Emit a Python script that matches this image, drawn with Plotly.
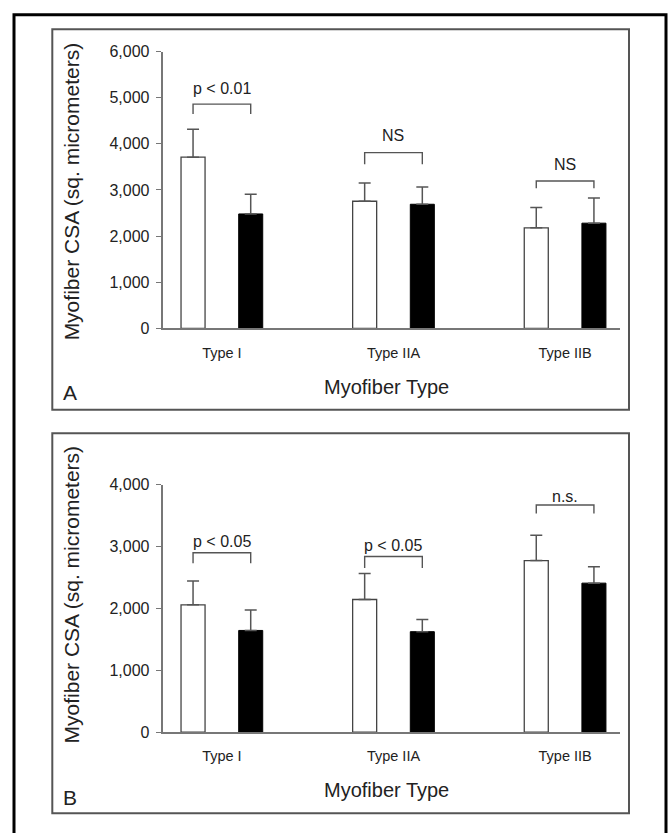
import plotly.graph_objects as go

W, H = 670, 833

categories = ["Type I", "Type IIA", "Type IIB"]

# Panel A
a_white = [3710, 2755, 2180]
a_white_err = [608, 395, 440]
a_black = [2480, 2690, 2280]
a_black_err = [425, 375, 545]
a_labels = ["p < 0.01", "NS", "NS"]
a_bracket_top = [4860, 3810, 3195]
a_bracket_end = [4645, 3560, 3035]
a_label_y = [5210, 4170, 3547]
a_yticks = [0, 1000, 2000, 3000, 4000, 5000, 6000]

# Panel B
b_white = [2060, 2145, 2775]
b_white_err = [385, 420, 407]
b_black = [1645, 1625, 2410]
b_black_err = [332, 196, 265]
b_labels = ["p < 0.05", "p < 0.05", "n.s."]
b_bracket_top = [2900, 2840, 3672]
b_bracket_end = [2733, 2654, 3536]
b_label_y = [3077, 3020, 3816]
b_yticks = [0, 1000, 2000, 3000, 4000]

FONT = "Liberation Sans, Arial, Helvetica, sans-serif"
AX = "#777777"
TXT = "#222222"
BW = 0.14
OFF = 0.168

def px_x(v):
    return v / W

def px_y(v):
    return 1 - v / H

fig = go.Figure()

def add_panel(xa, ya, white, werr, black, berr):
    fig.add_trace(go.Bar(
        x=categories, y=white, width=BW, offset=-OFF - BW / 2,
        marker=dict(color="white", line=dict(color="#444444", width=1.3)),
        error_y=dict(type="data", array=werr, arrayminus=[0] * len(werr), symmetric=False,
                     color="#555555", thickness=1.5, width=6),
        xaxis=xa, yaxis=ya, showlegend=False, hoverinfo="skip"))
    fig.add_trace(go.Bar(
        x=categories, y=black, width=BW, offset=OFF - BW / 2,
        marker=dict(color="black", line=dict(color="black", width=1)),
        error_y=dict(type="data", array=berr, arrayminus=[0] * len(berr), symmetric=False,
                     color="#555555", thickness=1.5, width=6),
        xaxis=xa, yaxis=ya, showlegend=False, hoverinfo="skip"))

add_panel("x", "y", a_white, a_white_err, a_black, a_black_err)
add_panel("x2", "y2", b_white, b_white_err, b_black, b_black_err)

xcommon = dict(type="category", range=[-0.346, 2.317], showline=True, linecolor=AX, linewidth=1.6,
               ticks="outside", ticklen=10, tickcolor="rgba(0,0,0,0)", showgrid=False, zeroline=False,
               tickfont=dict(family=FONT, size=14.5, color=TXT), fixedrange=True)
ycommon = dict(showline=True, linecolor=AX, linewidth=1.6, ticks="outside", ticklen=5, tickcolor=AX,
               tickwidth=1.4, showgrid=False, zeroline=False, tickformat=",",
               tickfont=dict(family=FONT, size=16, color=TXT), ticklabelstandoff=3, fixedrange=True)

xdom = [px_x(162.5), px_x(619.5)]
fig.update_layout(
    width=W, height=H, margin=dict(l=0, r=0, t=0, b=0),
    paper_bgcolor="white", plot_bgcolor="white", barmode="overlay",
    xaxis=dict(domain=xdom, anchor="y", **xcommon),
    yaxis=dict(domain=[px_y(327), px_y(44.5)], anchor="x", range=[0, 6000], tickvals=a_yticks, **ycommon),
    xaxis2=dict(domain=xdom, anchor="y2", **xcommon),
    yaxis2=dict(domain=[px_y(739.3), px_y(486.7)], anchor="x2", range=[0, 4000], tickvals=b_yticks, **ycommon),
)

shapes = []
annotations = []

def add_brackets(xr, yr, labels, tops, ends, texty):
    for i, lab in enumerate(labels):
        x0, x1 = i - OFF, i + OFF
        shapes.append(dict(type="path", xref=xr, yref=yr,
                           path=f"M {x0},{ends[i]} L {x0},{tops[i]} L {x1},{tops[i]} L {x1},{ends[i]}",
                           line=dict(color="#555555", width=1.4)))
        annotations.append(dict(x=i, y=texty[i], xref=xr, yref=yr, text=lab, showarrow=False,
                                xanchor="center", yanchor="middle",
                                font=dict(family=FONT, size=16, color=TXT)))

add_brackets("x", "y", a_labels, a_bracket_top, a_bracket_end, a_label_y)
add_brackets("x2", "y2", b_labels, b_bracket_top, b_bracket_end, b_label_y)

# panel frames
for (y0, y1) in [(21.7, 410), (434, 822)]:
    shapes.append(dict(type="rect", xref="paper", yref="paper", x0=px_x(52.3), x1=px_x(629),
                       y0=px_y(y1), y1=px_y(y0), line=dict(color="#555555", width=2)))
# outer border
shapes.append(dict(type="rect", xref="paper", yref="paper", x0=px_x(14), x1=px_x(666),
                   y0=px_y(845), y1=px_y(7), line=dict(color="black", width=3)))

# axis titles and panel letters
for yc, xt_y, letter_y, letter in [(187.5, 386.7, 393, "A"), (599, 798.3, 805.5, "B")]:
    annotations.append(dict(x=px_x(71.7), y=px_y(yc), xref="paper", yref="paper",
                            text="Myofiber CSA (sq. micrometers)", textangle=-90, showarrow=False,
                            xanchor="center", yanchor="middle",
                            font=dict(family=FONT, size=21, color=TXT)))
    annotations.append(dict(x=px_x(386.5), y=px_y(xt_y), xref="paper", yref="paper",
                            text="Myofiber Type", showarrow=False, xanchor="center", yanchor="middle",
                            font=dict(family=FONT, size=20, color=TXT)))
    annotations.append(dict(x=px_x(61), y=px_y(letter_y), xref="paper", yref="paper",
                            text=letter, showarrow=False, xanchor="left", yanchor="middle",
                            font=dict(family=FONT, size=21, color=TXT)))

fig.update_layout(shapes=shapes, annotations=annotations)
fig.write_html("out.html", config={"displayModeBar": False},
               post_script="document.body.style.margin='0';document.body.style.overflow='hidden';")
